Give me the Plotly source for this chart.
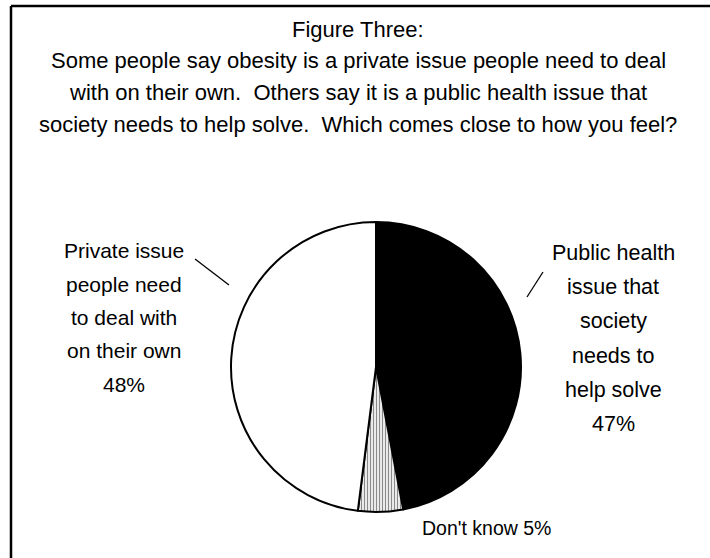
import plotly.graph_objects as go

# Data
categories = ["Public health issue that society needs to help solve",
              "Don't know",
              "Private issue people need to deal with on their own"]
values = [47, 5, 48]

title_lines = ["Figure Three:",
               "Some people say obesity is a private issue people need to deal",
               "with on their own.&nbsp; Others say it is a public health issue that",
               "society needs to help solve.&nbsp; Which comes close to how you feel?"]
left_label = ["Private issue", "people need", "to deal with", "on their own", "48%"]
right_label = ["Public health", "issue that", "society", "needs to", "help solve", "47%"]
dk_label = "Don't know 5%"

W, H = 710, 558
FONT = "Liberation Sans, Arial, sans-serif"

def px(x):
    return x / W

def py(y):
    return 1 - y / H

cx, cy, r = 376, 367, 145

fig = go.Figure(go.Pie(
    labels=categories,
    values=values,
    sort=False,
    direction="clockwise",
    rotation=0,
    textinfo="none",
    hoverinfo="label+percent",
    marker=dict(
        colors=["#000000", "#ffffff", "#ffffff"],
        line=dict(color="#000000", width=2),
        pattern=dict(shape=["", "|", ""], fgcolor="#8a8a8a", bgcolor="#ffffff",
                     size=3, solidity=0.45),
    ),
    domain=dict(x=[px(cx - r), px(cx + r)], y=[py(cy + r), py(cy - r)]),
    showlegend=False,
))

ann = []
title_y = [30, 61, 93, 125]
for t, y in zip(title_lines, title_y):
    ann.append(dict(text=t, x=px(358), y=py(y), xref="paper", yref="paper",
                    xanchor="center", yanchor="middle", showarrow=False,
                    font=dict(family=FONT, size=22, color="#000")))
for i, t in enumerate(left_label):
    ann.append(dict(text=t, x=px(124), y=py(251 + 33.3 * i), xref="paper", yref="paper",
                    xanchor="center", yanchor="middle", showarrow=False,
                    font=dict(family=FONT, size=21, color="#000")))
for i, t in enumerate(right_label):
    ann.append(dict(text=t, x=px(613), y=py(253 + 34.2 * i), xref="paper", yref="paper",
                    xanchor="center", yanchor="middle", showarrow=False,
                    font=dict(family=FONT, size=21.5, color="#000")))
ann.append(dict(text=dk_label, x=px(486), y=py(528), xref="paper", yref="paper",
                xanchor="center", yanchor="middle", showarrow=False,
                font=dict(family=FONT, size=19.5, color="#000")))

shapes = [
    # frame
    dict(type="line", xref="paper", yref="paper", x0=px(11), x1=px(720), y0=py(6), y1=py(6),
         line=dict(color="#000", width=2.5)),
    dict(type="line", xref="paper", yref="paper", x0=px(11), x1=px(11), y0=py(6), y1=py(570),
         line=dict(color="#000", width=2.5)),
    # leader lines
    dict(type="line", xref="paper", yref="paper", x0=px(195), x1=px(229), y0=py(259), y1=py(285),
         line=dict(color="#000", width=1.3)),
    dict(type="line", xref="paper", yref="paper", x0=px(543), x1=px(527), y0=py(272), y1=py(297),
         line=dict(color="#000", width=1.3)),
]

fig.update_layout(
    width=W, height=H,
    margin=dict(l=0, r=0, t=0, b=0),
    paper_bgcolor="#ffffff",
    plot_bgcolor="#ffffff",
    annotations=ann,
    shapes=shapes,
)

fig.write_html("out.html")
